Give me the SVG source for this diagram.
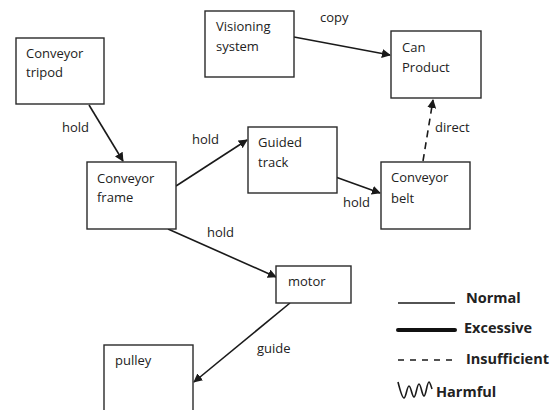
<svg xmlns="http://www.w3.org/2000/svg" width="560" height="410" viewBox="0 0 560 410">
<style>
.box{fill:#fff;stroke:#2a2a2a;stroke-width:1.4}
.t{font-family:"Open Sans","Noto Sans",sans-serif;font-size:13px;fill:#222}
.lg{font-family:"Open Sans","Noto Sans",sans-serif;font-size:14.5px;font-weight:bold;fill:#222}
.c{fill:none;stroke:#1a1a1a;stroke-width:1.6}
</style>
<defs>
<marker id="ah" viewBox="0 0 10 10" refX="9" refY="5" markerWidth="9" markerHeight="9" markerUnits="userSpaceOnUse" orient="auto">
<path d="M0,0 L10,5 L0,10 z" fill="#1a1a1a"/>
</marker>
</defs>
<rect width="560" height="410" fill="#fff"/>
<g id="connectors">
<line class="c" x1="89" y1="105" x2="123" y2="161" marker-end="url(#ah)"/>
<line class="c" x1="176" y1="186" x2="247" y2="140" marker-end="url(#ah)"/>
<line class="c" x1="330" y1="175" x2="380" y2="193" marker-end="url(#ah)"/>
<line class="c" x1="168" y1="229" x2="276" y2="277" marker-end="url(#ah)"/>
<line class="c" x1="290" y1="303" x2="194" y2="382" marker-end="url(#ah)"/>
<line class="c" x1="423" y1="161" x2="433" y2="100" stroke-dasharray="7,5" marker-end="url(#ah)"/>
<line class="c" x1="294" y1="37" x2="390" y2="55" stroke-width="3" marker-end="url(#ah)"/>
<text class="t" x="62" y="132">hold</text>
<text class="t" x="192" y="144">hold</text>
<text class="t" x="343" y="207">hold</text>
<text class="t" x="207" y="237">hold</text>
<text class="t" x="257" y="353">guide</text>
<text class="t" x="435" y="132">direct</text>
<text class="t" x="320" y="22">copy</text>
</g>
<g id="tripod"><rect class="box" x="16" y="38" width="88" height="66"/><text class="t" x="26" y="58">Conveyor</text><text class="t" x="26" y="77">tripod</text></g>
<g id="visioning"><rect class="box" x="205" y="11" width="89" height="66"/><text class="t" x="216" y="31">Visioning</text><text class="t" x="216" y="51">system</text></g>
<g id="can"><rect class="box" x="391" y="31" width="90" height="67"/><text class="t" x="402" y="52">Can</text><text class="t" x="402" y="72">Product</text></g>
<g id="frame"><rect class="box" x="87" y="162" width="89" height="67"/><text class="t" x="97" y="183">Conveyor</text><text class="t" x="97" y="202">frame</text></g>
<g id="guided"><rect class="box" x="248" y="127" width="89" height="66"/><text class="t" x="258" y="147">Guided</text><text class="t" x="258" y="167">track</text></g>
<g id="belt"><rect class="box" x="381" y="162" width="89" height="67"/><text class="t" x="391" y="182">Conveyor</text><text class="t" x="391" y="203">belt</text></g>
<g id="motor"><rect class="box" x="276" y="266" width="75" height="37"/><text class="t" x="288" y="286">motor</text></g>
<g id="pulley"><rect class="box" x="104" y="345" width="89" height="70"/><text class="t" x="115" y="365">pulley</text></g>
<g id="legend">
<line x1="398" y1="303" x2="455" y2="303" stroke="#1a1a1a" stroke-width="1.5"/>
<text class="lg" x="466" y="303">Normal</text>
<line x1="398" y1="330" x2="455" y2="330" stroke="#111" stroke-width="4" stroke-linecap="round"/>
<text class="lg" x="464" y="333">Excessive</text>
<line x1="398" y1="360" x2="455" y2="360" stroke="#1a1a1a" stroke-width="1.6" stroke-dasharray="6,6"/>
<text class="lg" x="466" y="364">Insufficient</text>
<path d="M398,382 C400,390 402,398 404,398 C406,398 407,386 409,386 C411,386 412,397 414,397 C416,397 417,384 419,384 C421,384 422,396 424,396 C426,396 427,382 429,382 C430,382 431,386 432,389" fill="none" stroke="#1a1a1a" stroke-width="1.6"/>
<text class="lg" x="436" y="397">Harmful</text>
</g>
</svg>
